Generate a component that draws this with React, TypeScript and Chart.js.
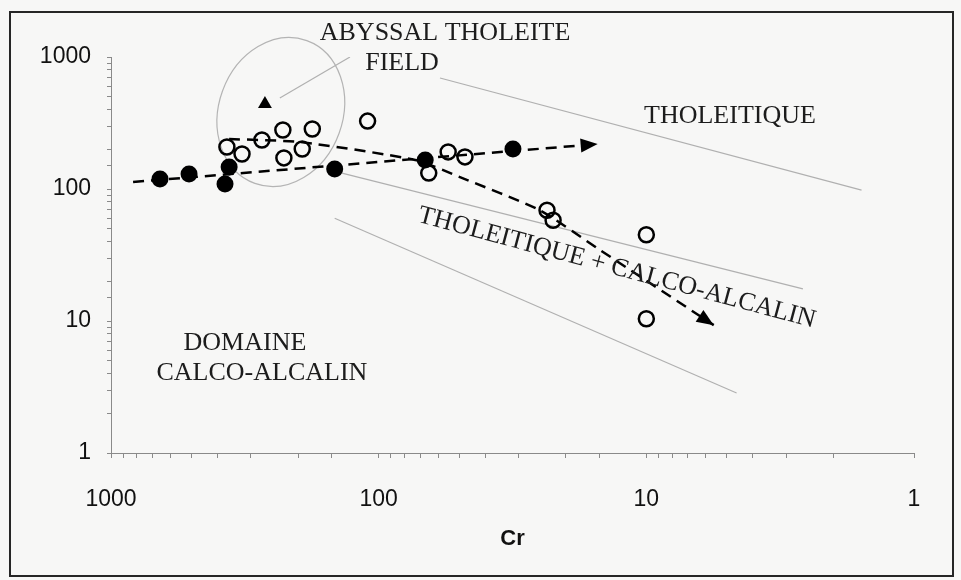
import { useEffect, useRef } from "react";
import { Chart, registerables } from "chart.js";

Chart.register(...registerables);

// Axis ticks
const xTickLabels = [1000, 100, 10, 1];
const yTickLabels = [1, 10, 100, 1000];

// Filled circles (Cr, Y)
const filledCr = [656, 511, 362, 375, 146, 67, 31.5];
const filledY = [119, 130, 147, 109, 142, 166, 201];

// Open circles (Cr, Y)
const openCr = [369, 324, 273, 228, 226, 193, 177, 110, 65, 55, 47.6, 23.5, 22.3, 10, 10];
const openY = [208, 184, 235, 280, 172, 201, 285, 327, 132, 191, 175, 69, 58, 45, 10.4];

// Dashed trends
const trendACr = [827, 15.2];
const trendAY = [113, 219];
const trendBCr = [362, 197, 73, 49.7, 25, 14.9, 5.6];
const trendBY = [239, 227, 166, 123, 69, 34.5, 9.3];

// Field boundaries (thin grey lines)
const bound1Cr = [59, 1.57];
const bound1Y = [693, 98];
const bound2Cr = [152, 2.6];
const bound2Y = [139, 17.5];
const bound3Cr = [146, 4.6];
const bound3Y = [60, 2.85];

// Pointer from label to the abyssal field
const pointerCr = [128, 234];
const pointerY = [1000, 489];
const pointerHeadCr = [266];
const pointerHeadY = [440];

// Abyssal tholeite field ellipse centre
const ellipseCr = 232;
const ellipseY = 383;

// Text annotations
const labelTexts = ["ABYSSAL THOLEITE", "FIELD", "THOLEITIQUE", "DOMAINE", "CALCO-ALCALIN", "THOLEITIQUE + CALCO-ALCALIN"];
const labelCr = [56.5, 81.8, 4.87, 316, 273, 12.9];
const labelY = [1515, 901, 357, 6.8, 4.04, 25.2];
const labelAngle = [0, 0, 0, 0, 0, 15];

const zip = (xs: number[], ys: number[]) => xs.map((x, i) => ({ x, y: ys[i] }));

export default function App() {
  const ref = useRef<HTMLCanvasElement | null>(null);

  useEffect(() => {
    if (!ref.current) return;
    const serif = "'Liberation Serif', 'Times New Roman', serif";
    const sans = "'Liberation Sans', Arial, sans-serif";

    const decor = {
      id: "decor",
      beforeDraw(chart: any) {
        const ctx = chart.ctx;
        ctx.save();
        ctx.fillStyle = "#f7f7f6";
        ctx.fillRect(0, 0, chart.width, chart.height);
        ctx.strokeStyle = "#262626";
        ctx.lineWidth = 2;
        ctx.strokeRect(10, 12, 943, 564);
        ctx.restore();
      },
      beforeDatasetsDraw(chart: any) {
        const { ctx, scales } = chart;
        const cx = scales.x.getPixelForValue(ellipseCr);
        const cy = scales.y.getPixelForValue(ellipseY);
        ctx.save();
        ctx.strokeStyle = "#b4b4b4";
        ctx.lineWidth = 1.2;
        ctx.beginPath();
        ctx.ellipse(cx, cy, 76, 62, (-70 * Math.PI) / 180, 0, Math.PI * 2);
        ctx.stroke();
        ctx.restore();
      },
      afterDatasetsDraw(chart: any) {
        const { ctx, scales } = chart;
        chart.data.datasets.forEach((ds: any, i: number) => {
          if (!ds.arrow) return;
          const pts = chart.getDatasetMeta(i).data;
          const a = pts[pts.length - 2];
          const b = pts[pts.length - 1];
          const ang = Math.atan2(b.y - a.y, b.x - a.x);
          ctx.save();
          ctx.translate(b.x, b.y);
          ctx.rotate(ang);
          ctx.beginPath();
          ctx.moveTo(0, 0);
          ctx.lineTo(-17, -7);
          ctx.lineTo(-17, 7);
          ctx.closePath();
          ctx.fillStyle = "#000";
          ctx.fill();
          ctx.restore();
        });
        ctx.save();
        ctx.fillStyle = "#1c1c1c";
        ctx.font = `26px ${serif}`;
        ctx.textAlign = "center";
        ctx.textBaseline = "middle";
        labelTexts.forEach((t, i) => {
          const px = scales.x.getPixelForValue(labelCr[i]);
          const py = scales.y.getPixelForValue(labelY[i]);
          ctx.save();
          ctx.translate(px, py);
          ctx.rotate((labelAngle[i] * Math.PI) / 180);
          ctx.fillText(t, 0, 0);
          ctx.restore();
        });
        ctx.restore();
      },
    };

    const greyLine = (xs: number[], ys: number[]) => ({
      data: zip(xs, ys),
      showLine: true,
      borderColor: "#b0b0b0",
      borderWidth: 1.2,
      pointRadius: 0,
      order: 3,
    });

    const chart = new Chart(ref.current, {
      type: "scatter",
      data: {
        datasets: [
          {
            data: zip(filledCr, filledY),
            pointRadius: 8.5,
            pointBackgroundColor: "#000",
            pointBorderColor: "#000",
            pointBorderWidth: 0,
            order: 0,
          } as any,
          {
            data: zip(openCr, openY),
            pointRadius: 7.5,
            pointBackgroundColor: "rgba(0,0,0,0)",
            pointBorderColor: "#000",
            pointBorderWidth: 2.5,
            order: 0,
          },
          {
            data: zip(trendACr, trendAY),
            showLine: true,
            borderColor: "#000",
            borderWidth: 2.5,
            borderDash: [11, 7],
            pointRadius: 0,
            arrow: true,
            order: 1,
          },
          {
            data: zip(trendBCr, trendBY),
            showLine: true,
            borderColor: "#000",
            borderWidth: 2.5,
            borderDash: [11, 7],
            pointRadius: 0,
            tension: 0.2,
            arrow: true,
            order: 1,
          },
          greyLine(bound1Cr, bound1Y),
          greyLine(bound2Cr, bound2Y),
          greyLine(bound3Cr, bound3Y),
          greyLine(pointerCr, pointerY),
          {
            data: zip(pointerHeadCr, pointerHeadY),
            pointStyle: "triangle",
            pointRadius: 8,
            pointBackgroundColor: "#000",
            pointBorderColor: "#000",
            pointBorderWidth: 0,
            order: 0,
          },
        ] as any,
      },
      options: {
        animation: false,
        responsive: false,
        events: [],
        layout: { padding: { left: 0, right: 47, top: 57, bottom: 27 } },
        plugins: { legend: { display: false }, tooltip: { enabled: false } },
        scales: {
          x: {
            type: "logarithmic",
            min: 1,
            max: 1000,
            reverse: true,
            position: "bottom",
            afterFit: (s: any) => {
              s.height = 100;
            },
            grid: { drawOnChartArea: false, drawTicks: true, tickLength: 5, color: "#8a8a8a" },
            border: { display: true, color: "#8a8a8a", width: 1 },
            ticks: {
              autoSkip: false,
              maxRotation: 0,
              padding: 28,
              color: "#111",
              font: { family: sans, size: 23 },
              callback: (v: any) => (xTickLabels.includes(Number(v)) ? String(Number(v)) : ""),
            },
            title: {
              display: true,
              text: "Cr",
              color: "#111",
              font: { family: sans, size: 22, weight: "bold" },
              padding: { top: 0, bottom: 1 },
            },
          },
          y: {
            type: "logarithmic",
            min: 1,
            max: 1000,
            afterFit: (s: any) => {
              s.width = 111;
            },
            grid: { drawOnChartArea: false, drawTicks: true, tickLength: 4, color: "#8a8a8a" },
            border: { display: true, color: "#8a8a8a", width: 1 },
            ticks: {
              autoSkip: false,
              padding: 16,
              color: "#111",
              font: { family: sans, size: 23 },
              callback: (v: any) => (yTickLabels.includes(Number(v)) ? String(Number(v)) : ""),
            },
          },
        },
      } as any,
      plugins: [decor],
    });
    return () => chart.destroy();
  }, []);

  return (
    <div style={{ position: "absolute", left: 0, top: 0, width: 961, height: 580 }}>
      <canvas ref={ref} width={961} height={580} />
    </div>
  );
}
